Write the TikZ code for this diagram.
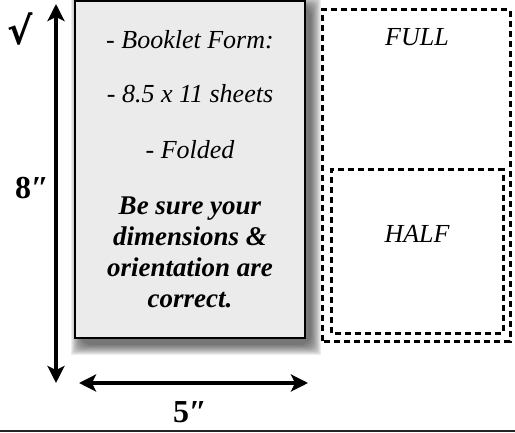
\documentclass[tikz,border=0pt]{standalone}
\usepackage{fontspec}
\setmainfont{Liberation Serif}
\newfontfamily\symfont{DejaVu Sans}
\usetikzlibrary{arrows.meta}
\begin{document}
\begin{tikzpicture}[x=1pt,y=1pt,
  dimarrow/.style={line width=4pt,{Stealth[length=17pt,width=17pt,inset=4pt]}-{Stealth[length=17pt,width=17pt,inset=4pt]}},
  dashline/.style={draw=black,line width=3pt,dash pattern=on 6pt off 4pt},
  area/.style={inner sep=0pt},
  itext/.style={font=\fontsize{26}{30}\selectfont\itshape,anchor=base,inner sep=0pt},
  btext/.style={itext,font=\fontsize{27}{30}\selectfont\bfseries\itshape},
  dimlabel/.style={font=\fontsize{32}{36}\selectfont\bfseries,inner sep=0pt}]
\useasboundingbox (0,0) rectangle (515,433);
% shadow
\foreach \r in {0,1,...,10}{
  \fill[black,opacity=0.065,rounded corners=\r pt] (81-10+\r,88-10+\r) rectangle (311+10-\r,426+10-\r);
}
% booklet box
\node[draw=black,line width=2.2pt,fill=black!8,minimum width=230pt,minimum height=337pt,inner sep=0pt] (page) at (190,263.5) {};
\node[itext] (t1) at (190,384) {- Booklet Form:};
\node[itext] (t2) at (190,330) {- 8.5 x 11 sheets};
\node[itext] (t3) at (190,274) {- Folded};
\node[btext] (t4) at (190,218) {Be sure your};
\node[btext] (t5) at (190,187) {dimensions \&};
\node[btext] (t6) at (190,156) {orientation are};
\node[btext] (t7) at (190,125) {correct.};
% dashed boxes
\node[area,minimum width=187pt,minimum height=331pt] (full) at (416.5,257.5) {};
\node[area,minimum width=171pt,minimum height=163pt] (half) at (417.5,181.5) {};
\draw[dashline] (full.south west) rectangle (full.north east);
\draw[dashline] (half.south west) rectangle (half.north east);
\node[itext] (fulltxt) at (417,387) {FULL};
\node[itext] (halftxt) at (417,190) {HALF};
% dimension arrows
\coordinate (vtop) at (56,429);
\coordinate (vbot) at (56,50);
\draw[dimarrow] (vbot) -- (vtop);
\coordinate (hl) at (79,50);
\coordinate (hr) at (308,50);
\draw[dimarrow] (hl) -- (hr);
\node[dimlabel] (eight) at (32,245) {8″};
\node[dimlabel] (five) at (190,21) {5″};
\node[inner sep=0pt,font=\fontsize{38}{40}\selectfont\symfont\bfseries] (check) at (20,404) {√};
% bottom rule
\coordinate (bl) at (0,2);
\coordinate (br) at (515,2);
\draw[line width=1.5pt,black!85] (bl) -- (br);
\end{tikzpicture}
\end{document}
